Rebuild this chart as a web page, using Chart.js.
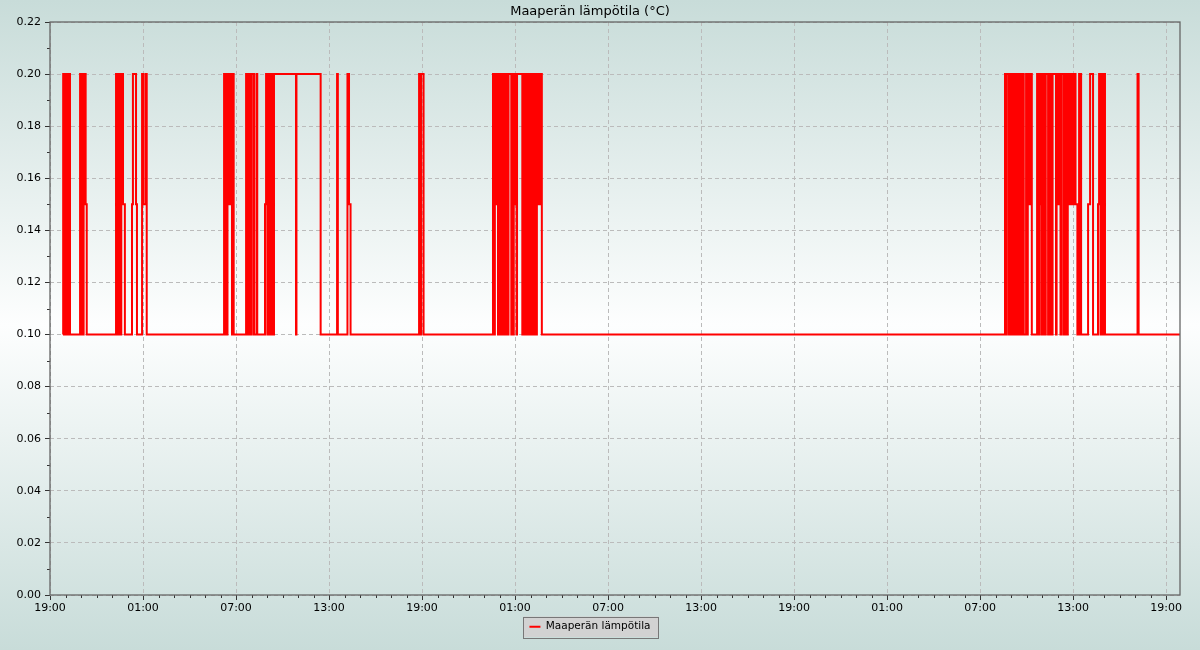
<!DOCTYPE html>
<html>
<head>
<meta charset="utf-8">
<title>Maaperän lämpötila</title>
<script src="https://cdn.jsdelivr.net/npm/chart.js@4.4.1/dist/chart.umd.min.js"></script>
<style>
  html, body { margin: 0; padding: 0; background: #c8dcd9; }
  #wrap { width: 1200px; height: 650px; }
</style>
</head>
<body>
<div id="wrap"><canvas id="kaavio" width="1200" height="650"></canvas></div>
<script>
// aika = tunteja klo 19:00 alkaen, lampotila = arvo siitä hetkestä eteenpäin (porrasviiva)
var aika = [
  0.84, 0.85, 0.92, 0.95, 1.05, 1.08, 1.18, 1.21, 1.29,
  1.94, 2.02, 2.05, 2.13, 2.17, 2.25, 2.30, 2.37,
  4.26, 4.34, 4.37, 4.45, 4.48, 4.57, 4.60, 4.71, 4.83,
  5.29, 5.35, 5.55, 5.61,
  5.94, 6.00, 6.15, 6.24,
  11.23, 11.31, 11.34, 11.42, 11.45, 11.53, 11.66, 11.74, 11.77, 11.85,
  12.65, 12.73, 12.76, 12.86, 12.89, 12.99, 13.02, 13.16,
  13.32, 13.37,
  13.87, 13.94, 14.02, 14.05, 14.15, 14.18, 14.28, 14.31, 14.42, 14.45, 15.87, 15.90, 17.46,
  18.52, 18.57,
  19.19, 19.29, 19.39,
  23.81, 23.90, 23.94, 24.10,
  28.58, 28.66, 28.70, 28.75, 28.82, 28.90, 28.94, 29.03, 29.06, 29.16, 29.19, 29.29, 29.32, 29.42, 29.45, 29.55,
  29.58, 29.76, 29.79, 29.89, 29.92, 30.00, 30.10, 30.13, 30.47, 30.50, 30.60, 30.63, 30.73, 30.76, 30.86, 30.89,
  30.99, 31.02, 31.12, 31.15, 31.25, 31.28, 31.37, 31.41, 31.48, 31.61, 31.73,
  61.61, 61.70, 61.73, 61.87, 62.00, 62.08, 62.12, 62.21, 62.25, 62.35, 62.39, 62.48, 62.52, 62.58,
  62.65, 62.73, 62.76, 62.82, 62.97, 63.05, 63.08, 63.18, 63.25, 63.34,
  63.68, 63.76, 63.81, 63.87, 63.95, 63.99, 64.08, 64.12, 64.21, 64.24, 64.39, 64.42, 64.52, 64.55, 64.65, 64.68,
  64.90, 64.94, 65.03, 65.10, 65.19, 65.23, 65.37, 65.41, 65.50, 65.54, 65.63, 65.66, 65.71, 65.77, 65.87, 65.94,
  66.02, 66.06, 66.16, 66.28, 66.39, 66.52, 66.97, 67.10, 67.29, 67.61, 67.68, 67.77, 67.81, 67.90, 67.94, 68.06,
  70.16, 70.23,
  72.9
];
var lampotila = [
  0.10, 0.20, 0.10, 0.20, 0.10, 0.20, 0.10, 0.20, 0.10,
  0.20, 0.10, 0.20, 0.10, 0.15, 0.20, 0.15, 0.10,
  0.20, 0.10, 0.20, 0.10, 0.20, 0.10, 0.20, 0.15, 0.10,
  0.15, 0.20, 0.15, 0.10,
  0.20, 0.15, 0.20, 0.10,
  0.20, 0.10, 0.20, 0.10, 0.20, 0.15, 0.20, 0.10, 0.20, 0.10,
  0.20, 0.10, 0.20, 0.10, 0.20, 0.10, 0.20, 0.10,
  0.20, 0.10,
  0.15, 0.20, 0.10, 0.20, 0.10, 0.20, 0.10, 0.20, 0.10, 0.20, 0.10, 0.20, 0.10,
  0.20, 0.10,
  0.20, 0.15, 0.10,
  0.20, 0.10, 0.20, 0.10,
  0.20, 0.10, 0.20, 0.15, 0.20, 0.10, 0.20, 0.10, 0.20, 0.10, 0.20, 0.10, 0.20, 0.10, 0.20, 0.10,
  0.20, 0.10, 0.20, 0.10, 0.20, 0.15, 0.10, 0.20, 0.10, 0.20, 0.10, 0.20, 0.10, 0.20, 0.10, 0.20,
  0.10, 0.20, 0.10, 0.20, 0.10, 0.20, 0.10, 0.20, 0.15, 0.20, 0.10,
  0.20, 0.10, 0.20, 0.10, 0.20, 0.10, 0.20, 0.10, 0.20, 0.10, 0.20, 0.10, 0.20, 0.10,
  0.20, 0.10, 0.20, 0.10, 0.20, 0.10, 0.20, 0.15, 0.20, 0.10,
  0.20, 0.10, 0.15, 0.20, 0.10, 0.20, 0.10, 0.20, 0.10, 0.20, 0.10, 0.20, 0.10, 0.20, 0.10, 0.20,
  0.10, 0.20, 0.15, 0.20, 0.10, 0.20, 0.10, 0.20, 0.10, 0.20, 0.10, 0.20, 0.15, 0.20, 0.15, 0.20,
  0.15, 0.20, 0.15, 0.10, 0.20, 0.10, 0.15, 0.20, 0.10, 0.15, 0.20, 0.10, 0.20, 0.10, 0.20, 0.10,
  0.20, 0.10,
  0.10
];
var kellonajat = ['19:00', '01:00', '07:00', '13:00', '19:00', '01:00', '07:00',
                  '13:00', '19:00', '01:00', '07:00', '13:00', '19:00'];
var otsikko = 'Maaperän lämpötila (°C)';
var sarjanNimi = 'Maaperän lämpötila';

Chart.defaults.font.family = '"DejaVu Sans", sans-serif';
Chart.defaults.font.size = 11;
Chart.defaults.color = '#222';

var pisteet = [];
for (var i = 0; i < aika.length; i++) {
  pisteet.push({ x: aika[i], y: lampotila[i] });
}

// tausta + legendan laatikko
var tausta = {
  id: 'tausta',
  beforeDraw: function(chart) {
    var ctx = chart.ctx;
    var g = ctx.createLinearGradient(0, 0, 0, chart.height);
    g.addColorStop(0, '#c8dcd9');
    g.addColorStop(0.5, '#fdfefe');
    g.addColorStop(1, '#c8dcd9');
    ctx.save();
    ctx.fillStyle = g;
    ctx.fillRect(0, 0, chart.width, chart.height);
    var hb = chart.legend.legendHitBoxes[0];
    if (hb) {
      ctx.fillStyle = '#d2d2d2';
      ctx.strokeStyle = '#777';
      ctx.lineWidth = 1;
      ctx.fillRect(hb.left - 6, hb.top - 5, hb.width + 14, hb.height + 10);
      ctx.strokeRect(Math.round(hb.left - 6) + 0.5, Math.round(hb.top - 5) + 0.5, Math.round(hb.width + 14), Math.round(hb.height + 10));
    }
    ctx.restore();
  },
  afterDraw: function(chart) {
    var ctx = chart.ctx;
    var a = chart.chartArea;
    var xs = chart.scales.x, ys = chart.scales.y;
    ctx.save();
    // pienet väliviivat
    ctx.strokeStyle = '#333';
    ctx.lineWidth = 1;
    ctx.beginPath();
    for (var h = 0; h <= 72; h++) {
      if (h % 6 == 0) continue;
      var px = Math.round(xs.getPixelForValue(h)) + 0.5;
      ctx.moveTo(px, a.bottom);
      ctx.lineTo(px, a.bottom + 3);
    }
    for (var k = 1; k < 22; k += 2) {
      var py = Math.round(ys.getPixelForValue(k / 100)) + 0.5;
      ctx.moveTo(a.left, py);
      ctx.lineTo(a.left - 3, py);
    }
    ctx.stroke();
    // kehys
    ctx.strokeStyle = '#666';
    ctx.lineWidth = 1.3;
    ctx.strokeRect(a.left, a.top, a.right - a.left, a.bottom - a.top);
    ctx.restore();
  }
};

var kaavio = new Chart(document.getElementById('kaavio').getContext('2d'), {
  type: 'line',
  data: {
    datasets: [{
      label: sarjanNimi,
      data: pisteet,
      stepped: true,
      borderColor: '#ff0000',
      backgroundColor: '#ff0000',
      borderWidth: 2,
      pointRadius: 0,
      fill: false
    }]
  },
  options: {
    responsive: false,
    animation: false,
    layout: { padding: { left: 0, right: 20, top: 0, bottom: 8 } },
    plugins: {
      title: {
        display: true,
        text: otsikko,
        color: '#000',
        font: { size: 13, weight: 'normal' },
        padding: { top: 4, bottom: 2.4 }
      },
      legend: {
        position: 'bottom',
        labels: {
          usePointStyle: true,
          pointStyle: 'line',
          pointStyleWidth: 11,
          padding: 6.5,
          color: '#000',
          font: { size: 10.5 }
        }
      },
      tooltip: { enabled: false }
    },
    scales: {
      x: {
        type: 'linear',
        min: 0,
        max: 72.9,
        afterFit: function(s) { s.height = 20; },
        ticks: {
          stepSize: 6,
          includeBounds: false,
          maxRotation: 0,
          padding: 2,
          color: '#000',
          callback: function(v, idx) { return kellonajat[idx]; }
        },
        grid: { color: '#bbb', lineWidth: 1, tickLength: 5, tickColor: '#333' },
        border: { display: false, dash: [4, 3] }
      },
      y: {
        min: 0,
        max: 0.22,
        afterFit: function(s) { s.width = 50; },
        ticks: {
          stepSize: 0.02,
          padding: 4,
          color: '#000',
          callback: function(v) { return v.toFixed(2); }
        },
        grid: { color: '#bbb', lineWidth: 1, tickLength: 5, tickColor: '#333' },
        border: { display: false, dash: [4, 3] }
      }
    }
  },
  plugins: [tausta]
});
</script>
</body>
</html>
